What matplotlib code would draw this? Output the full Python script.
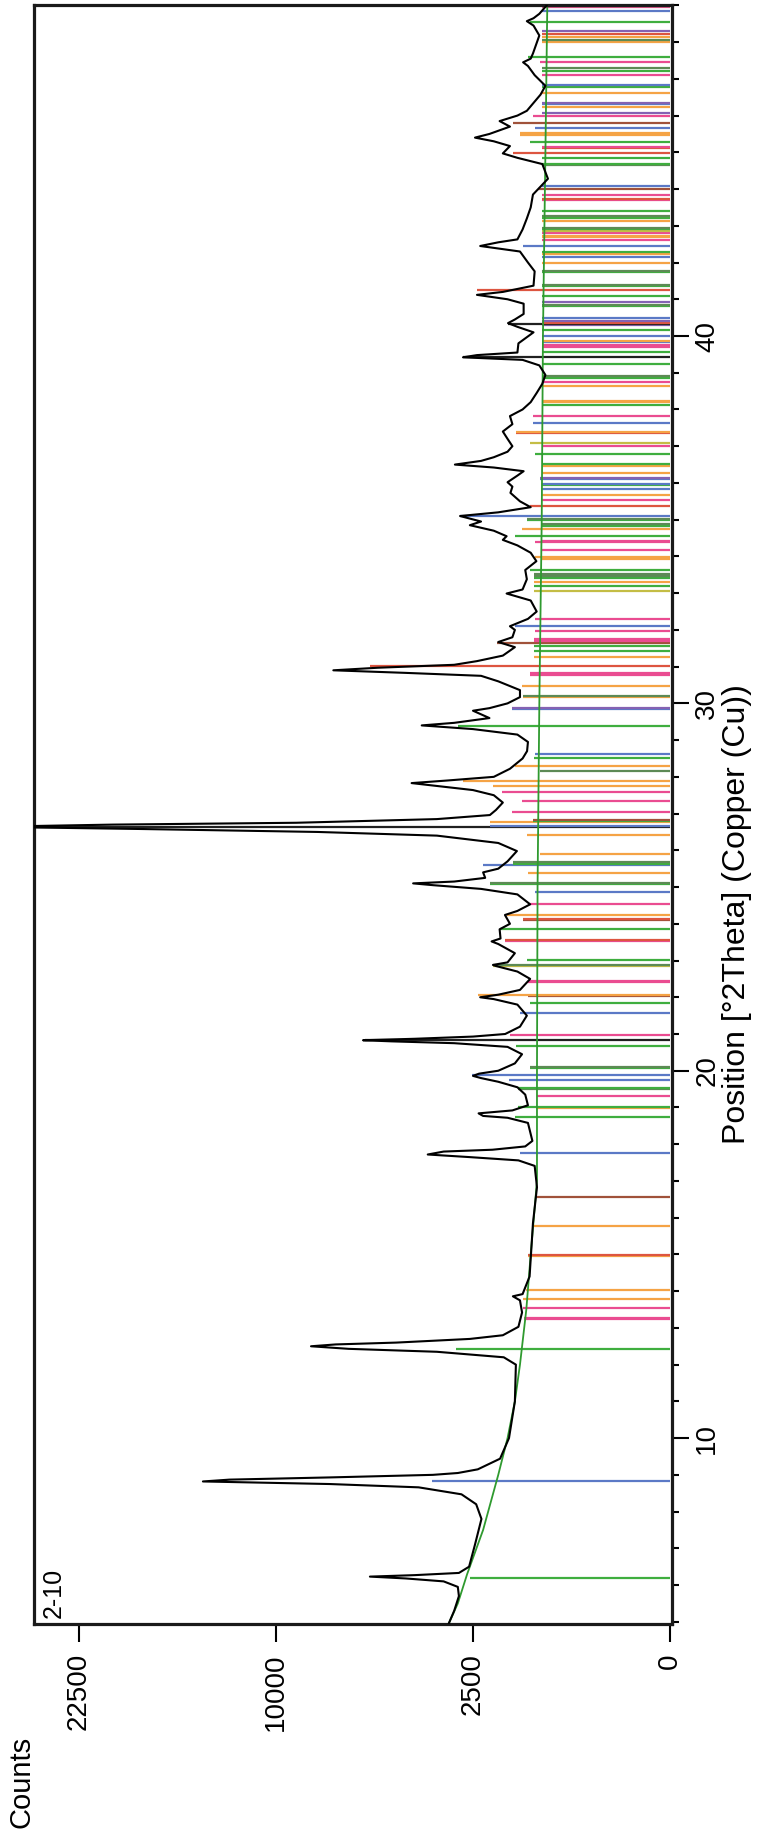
import numpy as np
import matplotlib
matplotlib.use("Agg")
import matplotlib.pyplot as plt

plt.rcParams['font.family'] = ['Liberation Sans', 'DejaVu Sans']

# measured profile: 2theta (deg) and counts
theta = [4.96, 5.3, 5.7, 5.95, 6.1, 6.18, 6.23, 6.27, 6.33, 6.5, 7.1, 7.8, 8.2, 8.47, 8.66,
         8.75, 8.82, 8.87, 8.93, 9.0, 9.05, 9.15, 9.44, 10.0, 11.0, 12.0, 12.2, 12.35, 12.43,
         12.5, 12.55, 12.6, 12.7, 12.8, 13.03, 13.42, 13.75, 13.86, 13.92, 14.4, 15.85, 16.83,
         17.41, 17.56, 17.65, 17.72, 17.8, 17.85, 17.94, 18.09, 18.58, 18.72, 18.77, 18.84,
         18.92, 19.06, 19.35, 19.55, 19.7,
         19.8, 19.86, 19.92, 20.0, 20.2, 20.45, 20.65, 20.75, 20.8, 20.83, 20.87, 20.93, 21.0,
         21.2, 21.5, 21.8, 21.95, 22.0, 22.07, 22.2, 22.5, 22.7, 22.85, 22.88, 22.95, 23.2,
         23.45, 23.52, 23.6, 23.85, 24.0, 24.24, 24.35, 24.53, 24.8, 24.95, 25.05, 25.1, 25.15,
         25.25, 25.4, 25.5, 25.7, 25.98, 26.2, 26.4, 26.5, 26.58, 26.64, 26.7, 26.75, 26.85,
         26.96, 27.1, 27.3, 27.5, 27.64, 27.75, 27.83, 27.9, 28.0, 28.22, 28.5, 28.7, 28.95,
         29.15, 29.3, 29.4, 29.47, 29.6, 29.8, 29.87, 30.0, 30.17, 30.36, 30.6, 30.75, 30.83,
         30.9, 30.97, 31.05, 31.15, 31.3, 31.53, 31.67, 31.8, 32.0, 32.1, 32.3, 32.5, 32.8,
         32.99, 33.1, 33.38, 33.63, 33.87, 34.1, 34.3, 34.45,
         34.55, 34.7, 34.85, 34.95, 35.1, 35.2, 35.34, 35.5, 35.73, 35.9, 36.02, 36.2, 36.32,
         36.42, 36.5, 36.6, 36.7, 36.85, 37.0, 37.2, 37.4, 37.6, 37.82, 38.0, 38.2, 38.45,
         38.7, 38.94, 39.2, 39.35, 39.42, 39.48, 39.55, 39.8, 40.1, 40.25, 40.35, 40.45, 40.6,
         40.88, 41.0, 41.12, 41.2, 41.37, 41.76, 42.0, 42.3, 42.45, 42.55, 42.63, 42.9, 43.2,
         43.5, 43.85, 44.28, 44.68, 44.85, 44.97, 45.17, 45.3, 45.4, 45.5, 45.7, 45.85, 46.0,
         46.13, 46.57, 46.81, 47.1, 47.35, 47.45, 47.55, 47.69, 48.18, 48.45, 48.57, 48.65,
         48.77, 49.0]
counts = [3150, 3000, 2870, 2900, 3300, 4500, 5800, 4200, 2870, 2600, 2450, 2290, 2420, 2800, 4070,
          7460, 14050, 12500, 7460, 3620, 2900, 2380, 1860, 1670, 1550, 1530, 1780, 3500, 6650,
          8300, 7200, 4830, 2580, 1800, 1480, 1410, 1450, 1590, 1400, 1270, 1210, 1140,
          1180, 1480, 2600, 3780, 3300, 2030, 1350, 1220, 1300, 1700, 2250, 2360,
          1600, 1300, 1350, 1500, 1900,
          2300, 2500, 2350, 1900, 1550, 1410, 1700, 3000, 5000, 6070, 4200, 2500, 1750,
          1450, 1320, 1500, 2000, 2320, 1900, 1450, 1260, 1500, 1950, 2020, 1700, 1550,
          1900, 2050, 1850, 1870, 1650, 1755, 1500, 1260, 1500, 2300, 3600, 4250, 3000,
          2200, 2250, 1900, 1700, 1510, 1900, 3500, 8000, 18000, 30000, 20000, 9000, 3500,
          2090, 1950, 1800, 2000, 2500, 3500, 4300, 3200, 2000, 1650, 1400, 1316, 1300,
          1500, 2500, 3970, 3000, 2100, 2500, 2100, 1700, 1450, 1450, 1900, 2300, 4500,
          7300, 5500, 3000, 2400, 1800, 1550, 1900, 1600, 1550, 1650, 1300, 1145, 1250,
          1720, 1400, 1320, 1350, 1150, 1250, 1500, 1800,
          1720, 2000, 2580, 2300, 2840, 1900, 1250, 1450, 1640, 1600, 1700, 1500, 1380,
          2000, 2980, 2300, 2000, 1700, 1600, 1700, 1800, 1600, 1650, 1400, 1250, 1145,
          1050, 1000, 1100, 1400, 2760, 2400, 1500, 1480, 1200, 1500, 1690, 1550, 1380,
          1380, 1700, 2400, 1800, 1200, 1180, 1300, 1450, 2320, 1900, 1500, 1400, 1320,
          1250, 1210, 960, 1050, 1500, 1800, 1650, 2000, 2450, 2100, 1650, 1870, 1500,
          1320, 1080, 1000, 1180, 1300, 1390, 1250, 1210, 1100, 1200, 1320, 1200,
          1100, 980]

# fitted background
bg_theta = [4.96, 5.5, 6.3, 7.5, 9.0, 10.0, 11.0, 12.0, 13.5, 15.0, 17.0, 20.0, 25.0, 30.0, 35.0, 40.0, 45.0, 49.0]
bg_counts = [3150, 2900, 2650, 2250, 1900, 1700, 1550, 1450, 1330, 1250, 1140, 1140, 1130, 1100, 1060, 1040, 1000, 970]

# reference pattern sticks: position, intensity, colour key
stick_pos = [6.18, 8.83, 12.43, 13.24, 13.27, 13.55, 13.79, 14.03, 14.96, 14.99, 15.77, 16.56,
             17.76, 18.74, 18.99, 19.02,
             19.30, 19.50, 19.53, 19.76, 19.89, 20.08, 20.11, 20.67, 20.83, 20.98, 21.56, 21.85,
             22.03, 22.05, 22.42, 22.45, 22.85, 22.88, 23.02, 23.52, 23.55, 23.87, 24.10, 24.13,
             24.25, 24.53, 24.87, 25.07, 25.10, 25.38, 25.60, 25.63, 25.67, 25.91, 26.42, 26.63,
             26.67, 26.76, 26.79, 26.82, 27.04, 27.33, 27.59, 27.74, 27.88, 28.17, 28.30, 28.50,
             28.61, 29.39, 29.84, 29.88, 30.17, 30.21, 30.48, 30.78, 30.82, 31.02, 31.26, 31.43,
             31.56, 31.65, 31.70, 31.74, 31.97, 32.11, 32.29, 33.07, 33.20, 33.30, 33.40, 33.47,
             33.52, 33.62, 33.93, 33.98, 34.17, 34.40, 34.42, 34.56, 34.76, 34.83, 34.87, 34.98,
             35.02, 35.10, 35.36, 35.53, 35.68, 35.83, 35.95, 35.98, 36.10, 36.14, 36.26, 36.46,
             36.51, 36.80, 37.00, 37.09, 37.36, 37.40, 37.62, 37.82, 38.11, 38.19, 38.23, 38.65,
             38.74, 38.87, 38.91, 39.23, 39.42, 39.57, 39.70, 39.76, 39.84, 39.86, 40.00, 40.15,
             40.29, 40.33, 40.36, 40.40, 40.49, 40.81, 40.85, 40.93, 41.08, 41.25, 41.35, 41.39,
             41.74, 41.78, 42.00, 42.15, 42.22, 42.29, 42.44, 42.61, 42.69, 42.73, 42.81, 42.85,
             42.90, 42.94, 43.12, 43.22, 43.26, 43.41, 43.70, 43.74, 43.85, 43.99, 44.07, 44.65,
             44.69, 44.84, 44.99, 45.11, 45.15, 45.29, 45.48, 45.52, 45.67, 45.79, 45.99, 46.06,
             46.23, 46.31, 46.35, 46.62, 46.77, 46.84, 47.10, 47.20, 47.30, 47.45, 47.59, 48.00,
             48.06, 48.13, 48.22, 48.29, 48.56, 48.84, 48.95, 48.98, 49.01]
stick_int = [2580, 3660, 2960, 1370, 1370, 1400, 1400, 1330, 1300, 1300, 1200, 1150,
             1450, 1550, 1150, 1480,
             1140, 1480, 1480, 1670, 2530, 1260, 1260, 1520, 6000, 1650, 1445, 1260,
             1300, 2365, 1290, 1290, 2010, 2010, 1320, 1760, 1760, 1870, 1385, 1385,
             1720, 1260, 1175, 2090, 2090, 1290, 2245, 1580, 1580, 1090, 1320, 30000,
             2090, 2090, 1210, 1210, 1615, 1415, 1825, 2010, 2760, 1090, 1550, 1200,
             1175, 2885, 1615, 1615, 1385, 1385, 1415, 1260, 1260, 5800, 1200, 1200,
             1200, 1935, 1200, 1200, 1175, 1550, 1175, 1200, 1200, 1200, 1200, 1200,
             1200, 1260, 1050, 1175, 1050, 1175, 1050, 1550, 1415, 1050, 1050, 1320,
             1320, 2840, 1260, 1050, 1050, 1050, 1050, 1050, 1090, 1090, 1050, 1050,
             1050, 1175, 1050, 1260, 1520, 1520, 1210, 1210, 1050, 1050, 1050, 1050,
             1050, 1050, 1050, 1050, 2760, 1050, 1050, 1050, 1050, 1050, 1050, 1050,
             1050, 1690, 1050, 1050, 1050, 1050, 1050, 1050, 1050, 2390, 1050, 1050,
             1050, 1050, 1050, 1050, 1050, 1050, 1385, 1050, 1050, 1050, 1050, 1050,
             1050, 1050, 1050, 1050, 1050, 1050, 1050, 1050, 1050, 1130, 1050, 1050,
             1050, 1050, 1580, 1050, 1050, 1260, 1445, 1445, 1175, 1580, 1210, 1050,
             1050, 1050, 1050, 1050, 1050, 1050, 1050, 1050, 1050, 1090, 1290, 1050,
             1050, 1050, 1050, 1050, 1260, 1050, 1050, 1050, 1050]
stick_col = ['g', 'b', 'g', 'p', 'p', 'p', 'o', 'o', 'o', 'r', 'o', 'br',
             'b', 'g', 'o', 'g',
             'p', 'dg', 'g', 'b', 'b', 'g', 'dg', 'g', 'k', 'p', 'b', 'g',
             'br', 'o', 'p', 'p', 'y', 'dg', 'g', 'p', 'r', 'g', 'br', 'r',
             'o', 'p', 'b', 'g', 'dg', 'o', 'b', 'g', 'dg', 'o', 'o', 'k',
             'b', 'o', 'g', 'br', 'p', 'p', 'p', 'o', 'o', 'dg', 'o', 'g',
             'b', 'g', 'b', 'pu', 'o', 'dg', 'o', 'p', 'p', 'r', 'o', 'g',
             'g', 'br', 'p', 'p', 'p', 'b', 'p', 'y', 'g', 'o', 'g', 'dg',
             'dg', 'g', 'o', 'o', 'p', 'p', 'p', 'g', 'o', 'g', 'dg', 'g',
             'dg', 'b', 'r', 'p', 'o', 'b', 'g', 'b', 'b', 'pu', 'o', 'o',
             'g', 'g', 'p', 'y', 'r', 'o', 'b', 'p', 'g', 'o', 'o', 'o',
             'p', 'g', 'dg', 'g', 'k', 'g', 'p', 'p', 'b', 'o', 'b', 'g',
             'pu', 'k', 'r', 'pu', 'b', 'g', 'dg', 'pu', 'g', 'r', 'g', 'dg',
             'g', 'dg', 'o', 'b', 'o', 'g', 'b', 'p', 'o', 'o', 'p', 'y',
             'g', 'dg', 'o', 'g', 'dg', 'g', 'p', 'r', 'p', 'br', 'b', 'dg',
             'g', 'g', 'r', 'r', 'p', 'g', 'o', 'o', 'b', 'br', 'p', 'pu',
             'o', 'b', 'pu', 'o', 'g', 'b', 'p', 'g', 'dg', 'p', 'g', 'o',
             'dg', 'o', 'r', 'pu', 'g', 'b', 'p', 'g', 'dg']

palette = {'g': '#3fae3f', 'dg': '#5d8a55', 'p': '#ea4c91', 'o': '#f5a345', 'b': '#5b79c6',
           'r': '#dd5540', 'br': '#a0523a', 'pu': '#8462b3', 'k': '#202020', 'y': '#c4bd45'}

count_ticks = [0, 2500, 10000, 22500]


def fwd(x):
    return np.sign(x) * np.sqrt(np.abs(x))


def inv(x):
    return np.sign(x) * x ** 2


fig = plt.figure(figsize=(7.57, 18.38), dpi=100)
ax = fig.add_axes([34 / 757, 1 - 1624 / 1838, (672 - 34) / 757, (1624 - 5) / 1838])

ax.set_xscale('function', functions=(fwd, inv))

ax.hlines(stick_pos, 0, stick_int, colors=[palette[c] for c in stick_col], linewidth=1.6, zorder=1)
ax.plot(bg_counts, bg_theta, color='#2f9a2f', linewidth=1.3, zorder=2)
ax.plot(counts, theta, color='black', linewidth=1.5, zorder=3)

ax.set_xlim(26050, -0.25)
ax.set_ylim(4.94, 49.01)

ax.set_xticks(count_ticks)
ax.set_xticklabels([str(v) for v in count_ticks], rotation=90, fontsize=20)
ax.tick_params(axis='x', direction='out', length=13, width=1.5, pad=8)

ax.yaxis.tick_right()
ax.set_yticks([10, 20, 30, 40])
ax.set_yticks(np.arange(5, 50, 1), minor=True)
ax.set_yticklabels(['10', '20', '30', '40'], rotation=90, va='center', fontsize=20)
ax.tick_params(axis='y', which='major', direction='out', length=12, width=1.5, pad=4)
ax.tick_params(axis='y', which='minor', direction='out', length=5, width=1.5)

for sp in ax.spines.values():
    sp.set_linewidth(2.3)
    sp.set_color('#1a1a1a')

ax.text(0.012, 0.004, '2-10', transform=ax.transAxes, rotation=90, fontsize=18,
        ha='left', va='bottom')

fig.text(737 / 757, 1 - 914 / 1838, 'Position [°2Theta] (Copper (Cu))', rotation=90,
         fontsize=23, ha='center', va='center')
fig.text(22 / 757, 1 - 1782 / 1838, 'Counts', rotation=90, fontsize=21, ha='center', va='center')

fig.savefig('out.png', dpi=100)
